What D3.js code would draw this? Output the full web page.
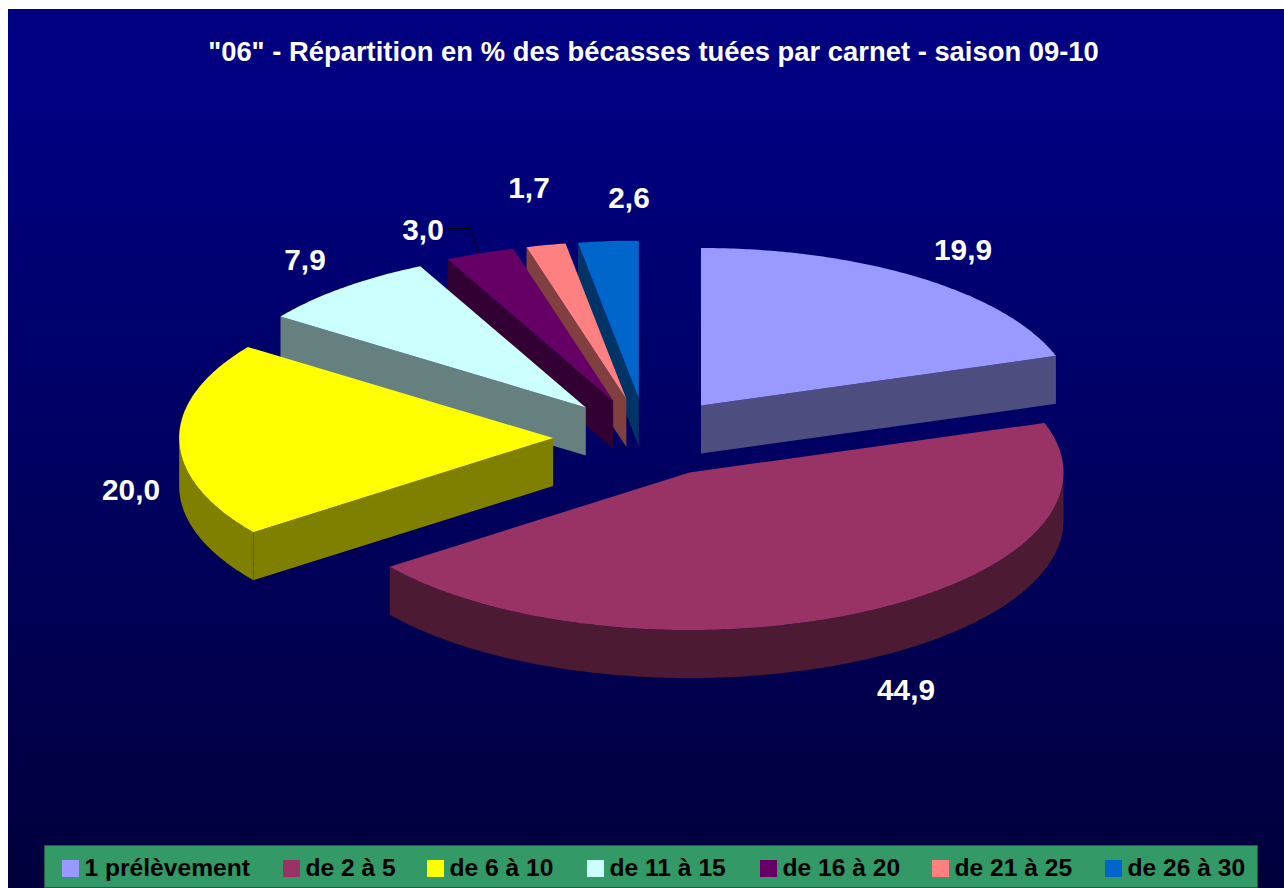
<!DOCTYPE html>
<html><head><meta charset="utf-8">
<script src="https://cdn.jsdelivr.net/npm/d3@7/dist/d3.min.js"></script>
<style>html,body{margin:0;padding:0;background:#fff;overflow:hidden}svg{display:block}text{font-family:"Liberation Sans",Arial,sans-serif;font-weight:bold}</style>
</head><body><div id="c"></div>
<script>
const categories = ["1 prélèvement","de 2 à 5","de 6 à 10","de 11 à 15","de 16 à 20","de 21 à 25","de 26 à 30"];
const values = [19.9,44.9,20.0,7.9,3.0,1.7,2.6];
const colors = ["#9999FF","#993366","#FFFF00","#CCFFFF","#660066","#FF8080","#0066CC"];
const titleText = '"06" - Répartition en % des bécasses tuées par carnet - saison 09-10';
const fmt = v => v.toFixed(1).replace(".",",");

const W=1284,H=888;
const cx=646.4,cy=437.5,rx=374,ry=157.5,depth=48,explode=0.25;
// label centres, as (sx, sy) pixel layout
const labelPos=[[963,249],[906,689],[131,489],[305,259],[423,229],[529,187],[629,197]];
const legendX=[62,283,427,587,760,932,1105];

const svg=d3.select("#c").append("svg").attr("width",W).attr("height",H);
const grad=svg.append("defs").append("linearGradient").attr("id","bg").attr("x1",0).attr("x2",0).attr("y1",0).attr("y2",1);
grad.append("stop").attr("offset","0%").attr("stop-color","#000080");
grad.append("stop").attr("offset","12%").attr("stop-color","#000080");
grad.append("stop").attr("offset","100%").attr("stop-color","#00003C");
svg.append("rect").attr("x",8).attr("y",9).attr("width",W-8).attr("height",H-9).attr("fill","url(#bg)");

svg.append("text").attr("x",653.5).attr("y",60.5).attr("text-anchor","middle").attr("fill","#fff").attr("font-size",27.4).text(titleText);

const arcs=d3.pie().sort(null).value(d=>d)(values);
const wall=c=>{const q=d3.rgb(c);return d3.rgb(q.r*.5,q.g*.5,q.b*.5).formatHex();};
const slices=arcs.map((a,i)=>{
  const mid=(a.startAngle+a.endAngle)/2;
  const ox=cx+explode*373*Math.sin(mid), oy=cy-explode*158*Math.cos(mid);
  return {i,a0:a.startAngle,a1:a.endAngle,ox,oy,color:colors[i]};
});
const pt=(s,t,dz=0)=>[s.ox+rx*Math.sin(t), s.oy-ry*Math.cos(t)+dz];
const rimPts=(s,t0,t1,dz=0)=>{const n=Math.max(2,Math.ceil((t1-t0)*90));return d3.range(n+1).map(k=>pt(s,t0+(t1-t0)*k/n,dz));};
const line=d3.line();
const g=svg.append("g");
// painter's order: back slices first, the largest front slice last
[6,5,4,3,0,2,1].forEach(i=>{
  const s=slices[i], sg=g.append("g"), dark=wall(s.color);
  if(Math.sin(s.a0)<0){
    const p=pt(s,s.a0);
    sg.append("path").attr("fill",dark).attr("d",line([[s.ox,s.oy],p,[p[0],p[1]+depth],[s.ox,s.oy+depth]])+"Z");
  }
  if(Math.sin(s.a1)>0){
    const p=pt(s,s.a1);
    sg.append("path").attr("fill",dark).attr("d",line([[s.ox,s.oy],p,[p[0],p[1]+depth],[s.ox,s.oy+depth]])+"Z");
  }
  const t0=Math.max(s.a0,Math.PI/2), t1=Math.min(s.a1,3*Math.PI/2);
  if(t1>t0){
    sg.append("path").attr("fill",dark).attr("d",line(rimPts(s,t0,t1).concat(rimPts(s,t0,t1,depth).reverse()))+"Z");
  }
  sg.append("path").attr("fill",s.color).attr("d",line([[s.ox,s.oy]].concat(rimPts(s,s.a0,s.a1)))+"Z");
});

// leader line for the 3,0 label
svg.append("path").attr("fill","none").attr("stroke","#000").attr("stroke-width",1).attr("d",line([[448,228.5],[470.5,228.5],[479,253]]));

values.forEach((v,i)=>{
  svg.append("text").attr("x",labelPos[i][0]).attr("y",labelPos[i][1]+10.5).attr("text-anchor","middle").attr("fill","#fff").attr("font-size",29.8).text(fmt(v));
});

svg.append("rect").attr("x",44.5).attr("y",845.5).attr("width",1213).attr("height",42).attr("fill","#339966").attr("stroke","#1f5c3d").attr("stroke-width",1);
categories.forEach((c,i)=>{
  svg.append("rect").attr("x",legendX[i]).attr("y",860).attr("width",17).attr("height",17).attr("fill",colors[i]);
  svg.append("text").attr("x",legendX[i]+22.5).attr("y",876).attr("fill","#000").attr("font-size",24.6).text(c);
});
</script></body></html>
